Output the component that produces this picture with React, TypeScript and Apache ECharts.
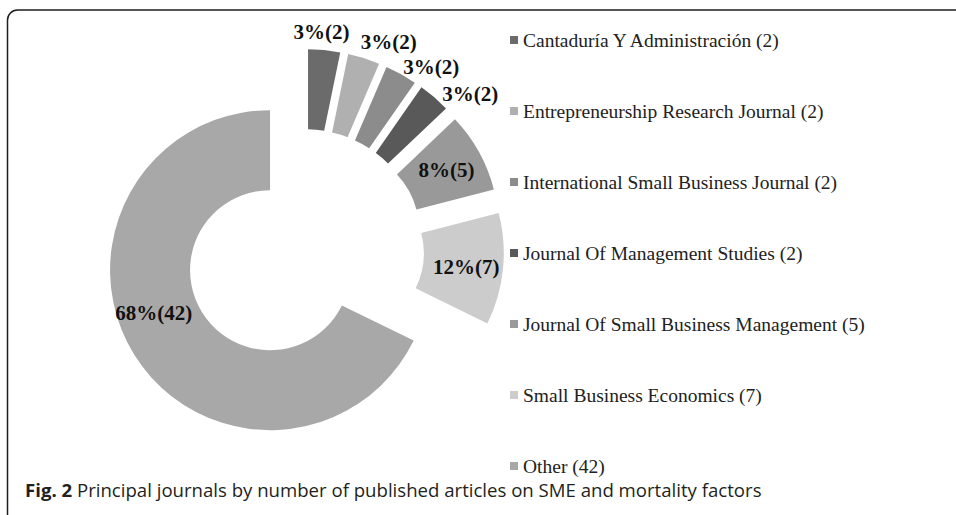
import React, { useEffect, useRef } from "react";
import * as echarts from "echarts";

const journals = [
  "Cantaduría Y Administración (2)",
  "Entrepreneurship Research Journal (2)",
  "International Small Business Journal (2)",
  "Journal Of Management Studies (2)",
  "Journal Of Small Business Management (5)",
  "Small Business Economics (7)",
  "Other (42)",
];
const articleCounts = [2, 2, 2, 2, 5, 7, 42];
const sliceColors = ["#6b6b6b", "#b0b0b0", "#8c8c8c", "#595959", "#999999", "#cccccc", "#a8a8a8"];
const captionText = "Principal journals by number of published articles on SME and mortality factors";

// small nudges for label placement (pixels), per slice
const outerLabelNudge: number[][] = [
  [-5, 5],
  [18, 6],
  [19, 13],
  [21, 14],
];
const innerLabelNudge: number[][] = [
  [0, 0],
  [0, 0],
  [0, 0],
  [0, 0],
  [0, 0],
  [0, 2],
  [-12, -22],
];

export default function App() {
  const ref = useRef<HTMLDivElement>(null);
  useEffect(() => {
    if (!ref.current) return;
    const chart = echarts.init(ref.current, null, { renderer: "svg" });
    const labelFont = {
      fontFamily: "Liberation Serif",
      fontWeight: "bold" as const,
      fontSize: 21,
      color: "#111111",
    };
    const mainData = journals.map((name, i) => ({
      name,
      value: articleCounts[i],
      selected: true,
      itemStyle: { color: sliceColors[i] },
      label: i >= 4 ? { show: true, position: "inside", ...labelFont } : { show: false },
    }));
    const labelData = journals.map((name, i) => ({
      name,
      value: articleCounts[i],
      selected: true,
      itemStyle: { color: "rgba(0,0,0,0)" },
      label: i < 4 ? { show: true, position: "inside", ...labelFont } : { show: false },
    }));
    chart.setOption({
      animation: false,
      backgroundColor: "#ffffff",
      title: {
        text: "{b|Fig. 2} " + captionText,
        left: 25,
        top: 480,
        padding: 0,
        textStyle: {
          fontFamily: "Open Sans",
          fontSize: 18.6,
          fontWeight: "normal",
          color: "#231f20",
          rich: {
            b: { fontFamily: "Open Sans", fontSize: 18.6, fontWeight: "bold", color: "#231f20" },
          },
        },
      },
      legend: {
        orient: "vertical",
        left: 510,
        top: 30,
        padding: 0,
        itemGap: 51,
        itemWidth: 8,
        itemHeight: 8,
        icon: "rect",
        selectedMode: false,
        data: journals,
        textStyle: {
          fontFamily: "Liberation Serif",
          fontSize: 19.5,
          lineHeight: 20,
          color: "#222222",
        },
      },
      graphic: [
        {
          type: "rect",
          z: -10,
          shape: { x: 7.5, y: 10, width: 1000, height: 700, r: 10 },
          style: { fill: "none", stroke: "#1e1e1e", lineWidth: 1.5 },
        },
      ],
      series: [
        {
          type: "pie",
          name: "main",
          center: [304, 249],
          radius: [80, 160],
          startAngle: 90,
          clockwise: true,
          selectedMode: "multiple",
          selectedOffset: 40,
          avoidLabelOverlap: false,
          percentPrecision: 0,
          label: { formatter: "{d}%({c})" },
          labelLine: { show: false },
          labelLayout: (p: any) => ({
            dx: innerLabelNudge[p.dataIndex][0],
            dy: innerLabelNudge[p.dataIndex][1],
            hideOverlap: false,
          }),
          emphasis: { disabled: true },
          data: mainData,
        },
        {
          type: "pie",
          name: "labels",
          silent: true,
          center: [304, 249],
          radius: [160, 200],
          startAngle: 90,
          clockwise: true,
          selectedMode: "multiple",
          selectedOffset: 40,
          avoidLabelOverlap: false,
          percentPrecision: 0,
          label: { formatter: "{d}%({c})" },
          labelLine: { show: false },
          labelLayout: (p: any) => {
            const n = outerLabelNudge[p.dataIndex] || [0, 0];
            return { dx: n[0], dy: n[1], hideOverlap: false };
          },
          emphasis: { disabled: true },
          data: labelData,
        },
      ],
    });
    return () => chart.dispose();
  }, []);
  return (
    <div
      ref={ref}
      style={{ position: "fixed", left: 0, top: 0, width: 956, height: 515, background: "#fff" }}
    />
  );
}
